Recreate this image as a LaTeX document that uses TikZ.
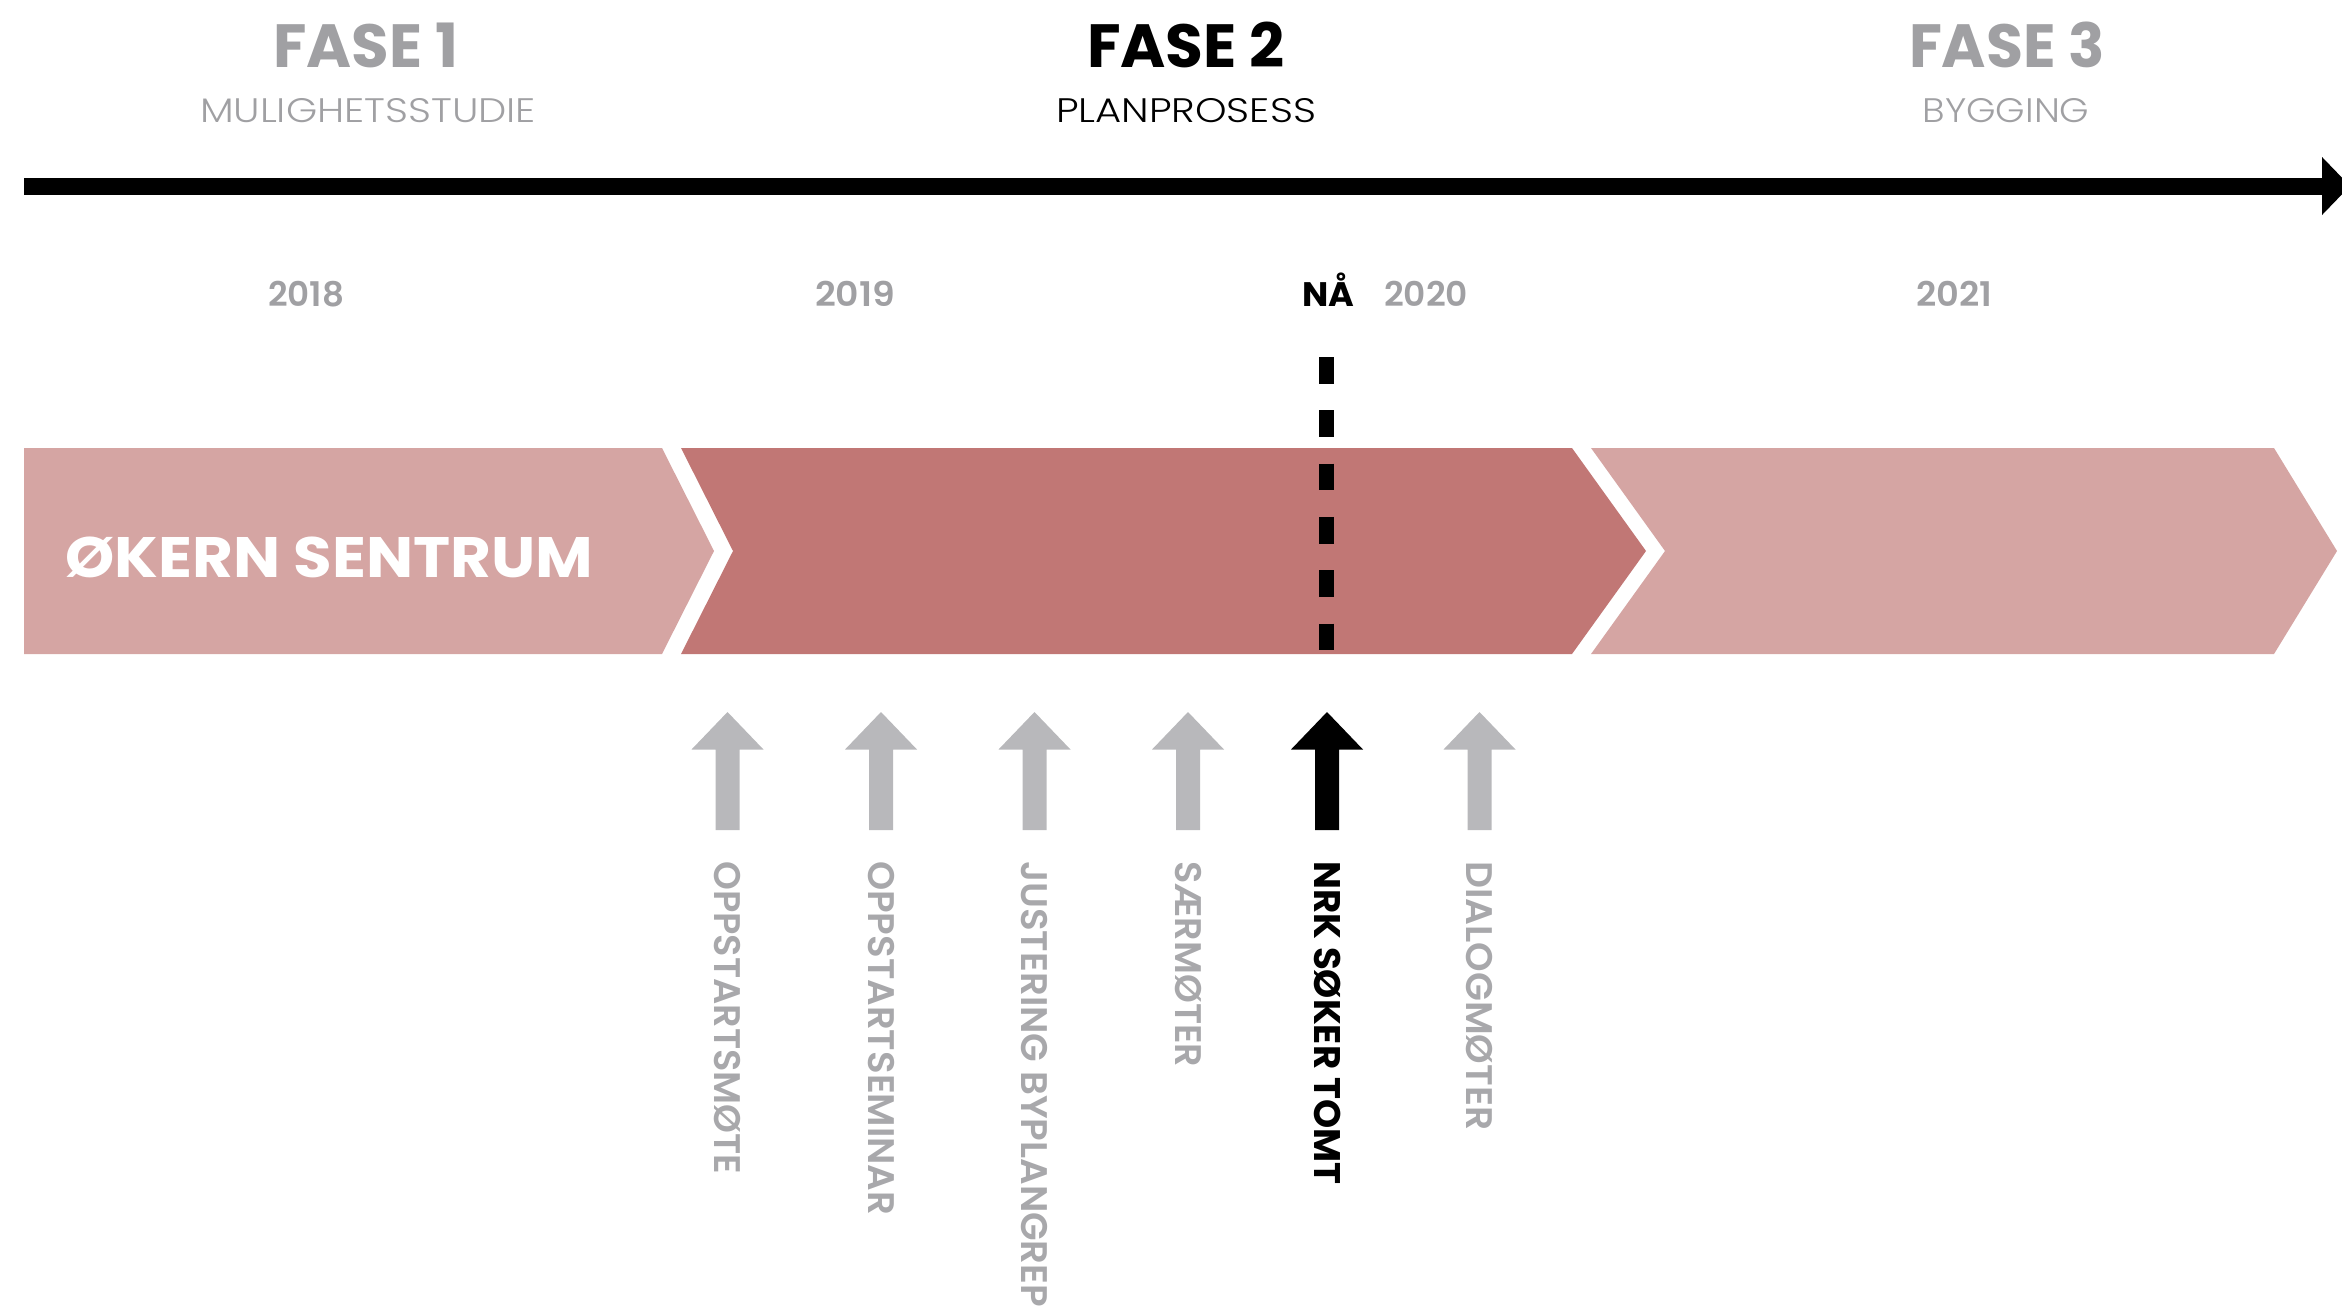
\documentclass[tikz,border=0pt]{standalone}
\usepackage{fontspec}
\setmainfont{Poppins}
\newfontfamily\pbold{Poppins Bold}
\newfontfamily\psemi{Poppins SemiBold}
\newfontfamily\pmed{Poppins Medium}
\newfontfamily\plight{Poppins Light}
\definecolor{lightrose}{RGB}{213,165,163}
\definecolor{darkrose}{RGB}{193,119,117}
\definecolor{txtgray}{RGB}{160,160,163}
\definecolor{lblgray}{RGB}{168,168,171}
\definecolor{arrgray}{RGB}{184,184,187}
\newcommand\fitw[2]{\resizebox{#1}{\height}{#2}}
\newcommand\blockup[3]{%
  \fill[#3] (#1-12,830) -- (#1-12,749.5) -- (#1-36,749.5) -- (#1,712) -- (#1+36,749.5) -- (#1+12,749.5) -- (#1+12,830) -- cycle;
  \coordinate (#2) at (#1,861);}
\begin{document}
\begin{tikzpicture}[x=1pt,y=-1pt,
  txt/.style={inner sep=0pt, text depth=0pt},
  phase/.style={txt, font=\pbold\fontsize{61}{61}\selectfont, text height=43pt},
  sub/.style={txt, font=\plight\fontsize{34}{34}\selectfont, text height=24pt},
  yr/.style={txt, font=\psemi\fontsize{34}{34}\selectfont, text height=24pt, text=txtgray},
  lbl/.style={txt, font=\psemi\fontsize{37}{37}\selectfont, text height=26pt, rotate=-90, anchor=west, text=lblgray}]
\useasboundingbox (0,0) rectangle (2342,1312);
% phases
\node[phase, text=txtgray] (f1) at (366,45.5) {\fitw{185pt}{FASE 1}};
\node[sub, text=txtgray] (s1) at (368,110) {\fitw{336pt}{MULIGHETSSTUDIE}};
\node[phase, text=black] (f2) at (1186,45.5) {\fitw{198pt}{FASE 2}};
\node[sub, text=black] (s2) at (1186,110) {\fitw{260pt}{PLANPROSESS}};
\node[phase, text=txtgray] (f3) at (2007,45.5) {\fitw{196pt}{FASE 3}};
\node[sub, text=txtgray] (s3) at (2006,110) {\fitw{167pt}{BYGGING}};
% timeline
\coordinate (tl0) at (24,186);
\coordinate (tl1) at (2326,186);
\draw[line width=17pt] (tl0) -- (tl1);
\fill (2322,157) -- (2350,186) -- (2322,215) -- cycle;
% years
\node[yr] (y18) at (306,294) {\fitw{76pt}{2018}};
\node[yr] (y19) at (855,294) {\fitw{80pt}{2019}};
\node[yr, text=black, font=\pbold\fontsize{34}{34}\selectfont] (na) at (1328,294) {\fitw{52pt}{NÅ}};
\node[yr] (y20) at (1426,294) {\fitw{84pt}{2020}};
\node[yr] (y21) at (1954,294) {\fitw{76pt}{2021}};
% ribbon
\fill[lightrose] (24,448) -- (662,448) -- (714,551) -- (662,654) -- (24,654) -- cycle;
\fill[darkrose] (681,448) -- (1572,448) -- (1646,551) -- (1572,654) -- (681,654) -- (733,551) -- cycle;
\fill[lightrose] (1591,448) -- (2274,448) -- (2337,551) -- (2274,654) -- (1591,654) -- (1665,551) -- cycle;
\node[txt, font=\pbold\fontsize{57}{57}\selectfont, text height=40pt, text=white, anchor=west] (ok) at (65,557) {\fitw{528pt}{ØKERN SENTRUM}};
% now line
\coordinate (now0) at (1326,357);
\coordinate (now1) at (1326,650);
\draw[line width=15pt, dash pattern=on 26.7pt off 26.6pt] (now0) -- (now1);
% event arrows
\blockup{727.5}{e1}{arrgray}
\blockup{881}{e2}{arrgray}
\blockup{1034.5}{e3}{arrgray}
\blockup{1188}{e4}{arrgray}
\blockup{1327}{e5}{black}
\blockup{1479.5}{e6}{arrgray}
\node[lbl] (l1) at (e1) {\fitw{313pt}{OPPSTARTSMØTE}};
\node[lbl] (l2) at (e2) {\fitw{354pt}{OPPSTARTSEMINAR}};
\node[lbl] (l3) at (e3) {\fitw{446pt}{JUSTERING BYPLANGREP}};
\node[lbl] (l4) at (e4) {\fitw{206pt}{SÆRMØTER}};
\node[lbl, font=\pbold\fontsize{37}{37}\selectfont, text=black] (l5) at (e5) {\fitw{323pt}{NRK SØKER TOMT}};
\node[lbl] (l6) at (e6) {\fitw{269pt}{DIALOGMØTER}};
\end{tikzpicture}
\end{document}
